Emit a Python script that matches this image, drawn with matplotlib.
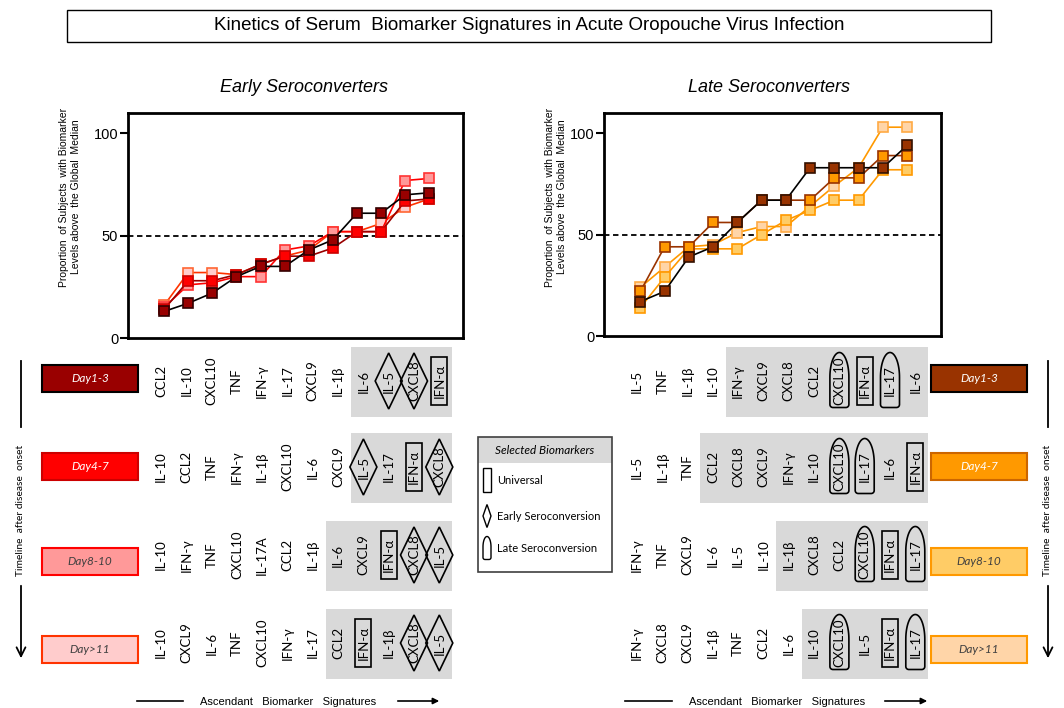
import numpy as np
import matplotlib
matplotlib.use('Agg')
import matplotlib.pyplot as plt
from matplotlib.patches import Rectangle, Polygon
from matplotlib import font_manager

W, H = 1064, 708

_names = {f.name for f in font_manager.fontManager.ttflist}
NARROW = 'Liberation Sans Narrow' if 'Liberation Sans Narrow' in _names else 'Liberation Sans'
ARIAL = 'Liberation Sans'
LBL = 'Lato'

# ---------------- data ----------------
days = ['Day1-3', 'Day4-7', 'Day8-10', 'Day>11']

early_d1 = [13, 17, 22, 30, 35, 35, 43, 48, 61, 61, 70, 71]
early_d4 = [14, 28, 28, 31, 36, 40, 40, 44, 52, 52, 67, 68]
early_d8 = [15, 26, 27, 30, 30, 43, 45, 52, 52, 52, 77, 78]
early_d11 = [16, 32, 32, 31, 36, 40, 43, 52, 52, 56, 64, 68]

late_d1 = [17, 22, 39, 44, 56, 67, 67, 83, 83, 83, 83, 94]
late_d4 = [22, 44, 44, 56, 56, 67, 67, 67, 78, 78, 89, 89]
late_d8 = [14, 29, 43, 43, 43, 50, 57, 62, 67, 67, 82, 82]
late_d11 = [24, 34, 44, 45, 51, 54, 54, 64, 74, 83, 103, 103]

early_rows = [
    ['CCL2', 'IL-10', 'CXCL10', 'TNF', 'IFN-γ', 'IL-17', 'CXCL9', 'IL-1β', 'IL-6', 'IL-5', 'CXCL8', 'IFN-α'],
    ['IL-10', 'CCL2', 'TNF', 'IFN-γ', 'IL-1β', 'CXCL10', 'IL-6', 'CXCL9', 'IL-5', 'IL-17', 'IFN-α', 'CXCL8'],
    ['IL-10', 'IFN-γ', 'TNF', 'CXCL10', 'IL-17A', 'CCL2', 'IL-1β', 'IL-6', 'CXCL9', 'IFN-α', 'CXCL8', 'IL-5'],
    ['IL-10', 'CXCL9', 'IL-6', 'TNF', 'CXCL10', 'IFN-γ', 'IL-17', 'CCL2', 'IFN-α', 'IL-1β', 'CXCL8', 'IL-5'],
]
late_rows = [
    ['IL-5', 'TNF', 'IL-1β', 'IL-10', 'IFN-γ', 'CXCL9', 'CXCL8', 'CCL2', 'CXCL10', 'IFN-α', 'IL-17', 'IL-6'],
    ['IL-5', 'IL-1β', 'TNF', 'CCL2', 'CXCL8', 'CXCL9', 'IFN-γ', 'IL-10', 'CXCL10', 'IL-17', 'IL-6', 'IFN-α'],
    ['IFN-γ', 'TNF', 'CXCL9', 'IL-6', 'IL-5', 'IL-10', 'IL-1β', 'CXCL8', 'CCL2', 'CXCL10', 'IFN-α', 'IL-17'],
    ['IFN-γ', 'CXCL8', 'CXCL9', 'IL-1β', 'TNF', 'CCL2', 'IL-6', 'IL-10', 'CXCL10', 'IL-5', 'IFN-α', 'IL-17'],
]
# first column of the shaded block in each row
early_shade = [8, 8, 7, 7]
late_shade = [4, 3, 6, 7]

# selected biomarkers: u = universal, e = early, l = late
early_sel = {'IFN-α': 'u', 'IL-5': 'e', 'CXCL8': 'e'}
late_sel = {'IFN-α': 'u', 'CXCL10': 'l', 'IL-17': 'l'}

# ---------------- styles ----------------
early_fill = ['#990000', '#FF0000', '#FF9999', '#FFCCCC']
early_edge = ['#330000', '#CC0000', '#FF3333', '#FF6633']
early_line = ['black', '#990000', '#FF0000', '#FF3300']
early_text = ['white', 'white', '#404040', '#404040']
early_box_edge = ['black', '#CC0000', '#FF0000', '#FF3300']

late_fill = ['#993300', '#FF9900', '#FFCC66', '#FFD5A8']
late_edge = ['#331100', '#993300', '#FF9900', '#FFAA44']
late_line = ['black', '#993300', '#FF9900', '#FF9900']
late_text = ['white', 'white', '#404040', '#404040']
late_box_edge = ['black', '#CC6600', '#FF9900', '#FF9900']

fig = plt.figure(figsize=(W / 100, H / 100), dpi=100)
ov = fig.add_axes([0, 0, 1, 1], zorder=0)
ov.set_xlim(0, W)
ov.set_ylim(H, 0)
ov.axis('off')


def add_chart(x0, x1, y0, y1, series, fills, edges, lines):
    ax = fig.add_axes([x0 / W, 1 - y1 / H, (x1 - x0) / W, (y1 - y0) / H], zorder=2)
    ax.patch.set_alpha(0)
    x = np.arange(12)
    for k in [3, 2, 1, 0]:
        ax.plot(x, series[k], color=lines[k], lw=1.2, marker='s', ms=7.5,
                mfc=fills[k], mec=edges[k], mew=1.2)
    ax.axhline(50, color='black', ls=(0, (3, 2)), lw=1.3, zorder=0)
    ax.set_xlim(-1.5, 12.4)
    ax.set_ylim(0, 110)
    ax.set_yticks([0, 50, 100])
    ax.set_xticks([])
    for s in ax.spines.values():
        s.set_linewidth(2)
    ax.tick_params(axis='y', length=6, width=1.5, pad=1, labelsize=10.5)
    for t in ax.get_yticklabels():
        t.set_fontfamily(ARIAL)
    return ax


add_chart(128, 463, 113, 338, [early_d1, early_d4, early_d8, early_d11],
          early_fill, early_edge, early_line)
add_chart(604, 941, 113, 336, [late_d1, late_d4, late_d8, late_d11],
          late_fill, late_edge, late_line)

ylab = 'Proportion  of Subjects  with Biomarker\nLevels above  the Global  Median'
ov.text(70, 197, ylab, rotation=90, ha='center', va='center', fontsize=7.5,
        family=NARROW, linespacing=1.15)
ov.text(556, 197, ylab, rotation=90, ha='center', va='center', fontsize=7.5,
        family=NARROW, linespacing=1.15)

# title and headings
ov.add_patch(Rectangle((67, 10), 924, 32, fill=False, lw=1, ec='black'))
ov.text(529, 25, 'Kinetics of Serum  Biomarker Signatures in Acute Oropouche Virus Infection',
        ha='center', va='center', fontsize=13.5, family=NARROW)
ov.text(304, 87, 'Early Seroconverters', ha='center', va='center', fontsize=13,
        family=NARROW, style='italic')
ov.text(769, 87, 'Late Seroconverters', ha='center', va='center', fontsize=13,
        family=NARROW, style='italic')


def bullet(cx, cy, w, h, **kw):
    top, bot = cy - h / 2, cy + h / 2
    a = h * 0.45
    r = min(3, w / 4)
    t = np.linspace(np.pi, 0, 40)
    arch = np.column_stack([cx + w / 2 * np.cos(t), top + a - a * np.sin(t)])
    c = np.linspace(0, np.pi / 2, 8)
    br = np.column_stack([cx + w / 2 - r + r * np.cos(c), bot - r + r * np.sin(c)])
    bl = np.column_stack([cx - w / 2 + r - r * np.sin(c), bot - r + r * np.cos(c)])
    pts = np.vstack([[cx - w / 2, bot - r], arch, br, bl])
    ov.add_patch(Polygon(pts, closed=True, fill=False, **kw))


def diamond(cx, cy, w, h, **kw):
    pts = [(cx, cy - h / 2), (cx + w / 2, cy), (cx, cy + h / 2), (cx - w / 2, cy)]
    ov.add_patch(Polygon(pts, closed=True, fill=False, **kw))


def box(cx, cy, w, h, **kw):
    ov.add_patch(Rectangle((cx - w / 2, cy - h / 2), w, h, fill=False, **kw))


row_c = [381, 467, 555, 643]
box_top = [365, 453, 548, 636]
col_w = 25.3


def draw_rows(rows, shade, sel, x_first, day_x0, fills, edges, tcolors):
    for r, names in enumerate(rows):
        cy = row_c[r]
        xs = [x_first + col_w * i for i in range(len(names))]
        gx0 = xs[shade[r]] - 12.5
        gx1 = xs[-1] + 13
        ov.add_patch(Rectangle((gx0, cy - 34), gx1 - gx0, 70, fc='#D9D9D9', ec='none', zorder=1))
        for x, nm in zip(xs, names):
            ov.text(x, cy, nm, rotation=90, ha='center', va='center', fontsize=9.5,
                    family=LBL, zorder=3)
            kind = sel.get(nm)
            if kind == 'u':
                box(x, cy, 16, 48, lw=1.2, ec='black', zorder=3)
            elif kind == 'e':
                diamond(x, cy, 27, 56, lw=1.2, ec='black', zorder=3)
            elif kind == 'l':
                bullet(x, cy - 1, 19, 55, lw=1.2, ec='black', zorder=3)
        ov.add_patch(Rectangle((day_x0, box_top[r]), 96, 27, fc=fills[r], ec=edges[r], lw=1.5, zorder=2))
        ov.text(day_x0 + 48, box_top[r] + 13.5, days[r], ha='center', va='center', fontsize=8.5,
                style='italic', family=LBL, color=tcolors[r], zorder=3)


draw_rows(early_rows, early_shade, early_sel, 161, 42, early_fill, early_box_edge, early_text)
draw_rows(late_rows, late_shade, late_sel, 637, 931, late_fill, late_box_edge, late_text)

# timeline arrows at both sides
for tx in (21, 1048):
    ov.plot([tx, tx], [361, 427], color='black', lw=1.3)
    ov.annotate('', xy=(tx, 661), xytext=(tx, 583),
                arrowprops=dict(arrowstyle='->', lw=1.3, color='black', mutation_scale=16))
    ov.text(tx, 510, 'Timeline  after disease  onset', rotation=90, ha='center', va='center',
            fontsize=7.4, family=LBL)

# ascendant arrows under rows
for lx0, lx1, tcx, ax0, ax1 in [(137, 183, 288, 395, 442), (625, 672, 777, 882, 930)]:
    ov.plot([lx0, lx1], [701, 701], color='black', lw=1.2)
    ov.annotate('', xy=(ax1, 701), xytext=(ax0, 701),
                arrowprops=dict(arrowstyle='-|>', lw=1.2, color='black', mutation_scale=9))
    ov.text(tcx, 702, 'Ascendant   Biomarker   Signatures', ha='center', va='center',
            fontsize=8, family=ARIAL)

# legend box
ov.add_patch(Rectangle((478, 437), 134, 26, fc='#D9D9D9', ec='none', zorder=1))
ov.add_patch(Rectangle((478, 437), 134, 135, fill=False, ec='#404040', lw=1.2, zorder=2))
ov.text(545, 451, 'Selected Biomarkers', ha='center', va='center', fontsize=8.5,
        style='italic', family=LBL)
box(487, 480, 8, 24, lw=1, ec='black')
diamond(487, 516, 8, 23, lw=1, ec='black')
bullet(487, 548, 8, 23, lw=1, ec='black')
ov.text(497, 481, 'Universal', ha='left', va='center', fontsize=8, family=LBL)
ov.text(497, 516, 'Early Seroconversion', ha='left', va='center', fontsize=8, family=LBL)
ov.text(497, 548, 'Late Seroconversion', ha='left', va='center', fontsize=8, family=LBL)

fig.savefig('out.png', dpi=100)
